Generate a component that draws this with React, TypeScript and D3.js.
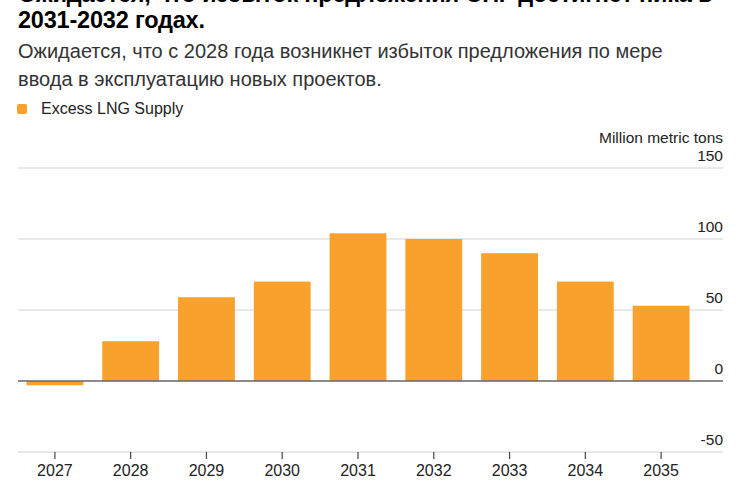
import React from "react";
import * as d3 from "d3";

// Excess LNG supply by year, million metric tons
const years = ["2027", "2028", "2029", "2030", "2031", "2032", "2033", "2034", "2035"];
const excessSupply = [-3, 28, 59, 70, 104, 100, 90, 70, 53];
const yTicks = [-50, 0, 50, 100, 150];

const titleLines = [
  "Ожидается, что избыток предложения СПГ достигнет пика в",
  "2031-2032 годах.",
];
const subtitleLines = [
  "Ожидается, что с 2028 года возникнет избыток предложения по мере",
  "ввода в эксплуатацию новых проектов.",
];
const legendLabel = "Excess LNG Supply";
const unitLabel = "Million metric tons";

const W = 750;
const H = 500;
const FONT = "'Liberation Sans', Arial, Helvetica, sans-serif";
const BAR = "#f9a12d";

export default function App() {
  const x = d3
    .scaleBand<string>()
    .domain(years)
    .range([17, 699])
    .paddingInner(0.25)
    .paddingOuter(0.125);
  const y = d3.scaleLinear().domain([-50, 150]).range([452, 168]);
  const gridLeft = 18;
  const gridRight = 723;

  return (
    <svg
      width={W}
      height={H}
      style={{ position: "absolute", left: 0, top: 0, background: "#fff" }}
      fontFamily={FONT}
    >
      {/* heading */}
      {titleLines.map((t, i) => (
        <text key={t} x={18} y={2 + i * 26} fontSize={23.5} fontWeight={700} fill="#000" letterSpacing={-0.2}>
          {t}
        </text>
      ))}
      {subtitleLines.map((t, i) => (
        <text key={t} x={18} y={58 + i * 28} fontSize={20} fill="#333">
          {t}
        </text>
      ))}

      {/* legend */}
      <rect x={17} y={104} width={10} height={10} rx={2} fill={BAR} />
      <text x={41} y={114} fontSize={16} fill="#222">
        {legendLabel}
      </text>

      {/* unit label */}
      <text x={gridRight} y={143} fontSize={15.5} fill="#222" textAnchor="end">
        {unitLabel}
      </text>

      {/* gridlines and y tick labels */}
      {yTicks.map((v) => (
        <g key={v}>
          {v !== 0 && v !== -50 && (
            <line x1={gridLeft} x2={gridRight} y1={y(v)} y2={y(v)} stroke="#e2e2e2" strokeWidth={1.5} />
          )}
          <text x={gridRight} y={y(v) - 7} fontSize={15.5} fill="#222" textAnchor="end">
            {v}
          </text>
        </g>
      ))}

      {/* bars */}
      {years.map((yr, i) => {
        const v = excessSupply[i];
        const top = y(Math.max(0, v));
        const bottom = y(Math.min(0, v));
        return <rect key={yr} x={x(yr)} y={top} width={x.bandwidth()} height={bottom - top} fill={BAR} />;
      })}

      {/* zero baseline */}
      <line x1={gridLeft} x2={gridRight} y1={y(0)} y2={y(0)} stroke="#666" strokeWidth={1.5} />

      {/* x axis */}
      <line x1={gridLeft} x2={gridRight} y1={y(-50)} y2={y(-50)} stroke="#cfcfcf" strokeWidth={1.2} />
      {years.map((yr) => {
        const cx = (x(yr) as number) + x.bandwidth() / 2;
        return (
          <g key={yr}>
            <line x1={cx} x2={cx} y1={y(-50)} y2={y(-50) + 7} stroke="#444" strokeWidth={1.2} />
            <text x={cx} y={476} fontSize={16} fill="#222" textAnchor="middle">
              {yr}
            </text>
          </g>
        );
      })}
    </svg>
  );
}
